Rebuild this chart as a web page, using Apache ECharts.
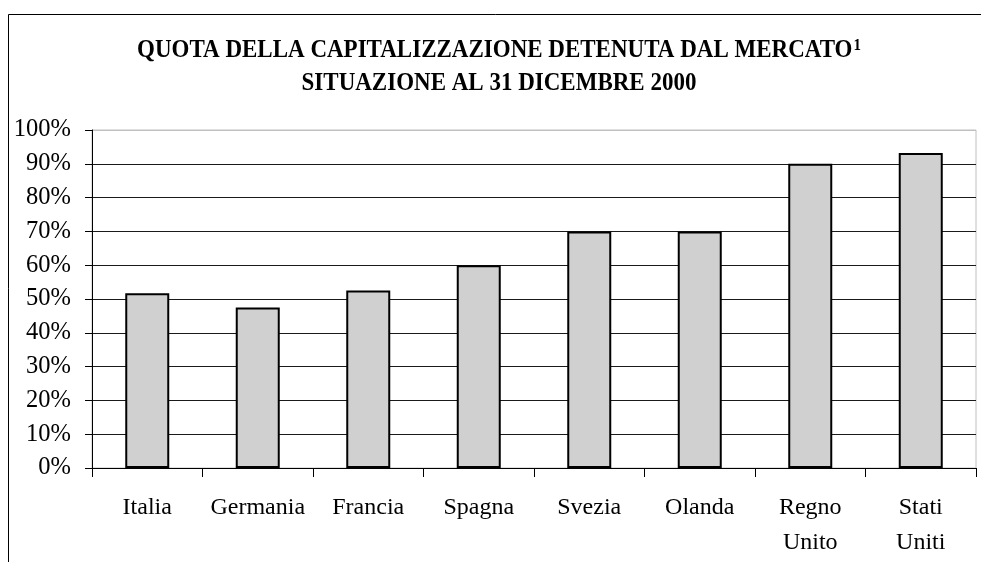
<!DOCTYPE html>
<html>
<head>
<meta charset="utf-8">
<script src="https://cdn.jsdelivr.net/npm/echarts@6/dist/echarts.min.js"></script>
<style>
  html, body { margin: 0; padding: 0; background: #fff; }
  #chart { width: 981px; height: 562px; }
</style>
</head>
<body>
<div id="chart"></div>
<script>
const paesi = ['Italia', 'Germania', 'Francia', 'Spagna', 'Svezia', 'Olanda', 'Regno\nUnito', 'Stati\nUniti'];
const quota = [51.7, 47.5, 52.5, 60, 70, 70, 90, 93.2];
const yTicks = { min: 0, max: 100, interval: 10 };
const titolo1 = 'QUOTA DELLA CAPITALIZZAZIONE DETENUTA DAL MERCATO';
const nota = '1';
const titolo2 = 'SITUAZIONE AL 31 DICEMBRE 2000';

const font = "'Liberation Serif', 'Times New Roman', serif";

// 11 gridlines: the top one (100%) is the light plot border
let splitColors = [];
for (let i = 0; i < 10; i++) splitColors.push('#1a1a1a');
splitColors.push('#c0c0c0');

const chart = echarts.init(document.getElementById('chart'));
chart.setOption({
    animation: false,
    backgroundColor: '#fff',
    graphic: [
        {
            type: 'rect',
            silent: true,
            shape: { x: 8.5, y: 14.5, width: 1200, height: 700 },
            style: { fill: 'none', stroke: '#000', lineWidth: 1 }
        },
        {
            type: 'text',
            silent: true,
            x: 499,
            y: 67,
            scaleY: 1.12,
            style: {
                text: '{t|' + titolo1 + '}{s|' + nota + '}\n{t|' + titolo2 + '}',
                align: 'center',
                verticalAlign: 'middle',
                rich: {
                    t: { fontFamily: font, fontSize: 23, fontWeight: 'bold', lineHeight: 30, fill: '#000' },
                    s: { fontFamily: font, fontSize: 15, fontWeight: 'bold', lineHeight: 30, verticalAlign: 'top', padding: [3, 0, 0, 1], fill: '#000' }
                }
            }
        }
    ],
    grid: {
        left: 92, top: 130, right: 5, bottom: 94,
        show: true,
        borderColor: '#c0c0c0',
        borderWidth: 1,
        outerBoundsMode: 'none'
    },
    xAxis: {
        type: 'category',
        data: paesi,
        axisLine: { lineStyle: { color: '#000', width: 1 } },
        axisTick: { show: true, length: 9, interval: 0, lineStyle: { color: '#000' } },
        axisLabel: {
            interval: 0,
            fontFamily: font,
            fontSize: 24,
            lineHeight: 35,
            margin: 22,
            color: '#000'
        },
        splitLine: { show: false }
    },
    yAxis: {
        type: 'value',
        min: yTicks.min,
        max: yTicks.max,
        interval: yTicks.interval,
        axisLine: { show: true, lineStyle: { color: '#000', width: 1 } },
        axisTick: { show: true, length: 7, lineStyle: { color: '#000' } },
        axisLabel: {
            formatter: '{value}%',
            fontFamily: font,
            fontSize: 24.5,
            margin: 21,
            color: '#000'
        },
        splitLine: { show: true, lineStyle: { color: splitColors, width: 1 } }
    },
    series: [
        {
            type: 'bar',
            data: quota,
            barWidth: 44,
            itemStyle: { color: '#d0d0d0', borderColor: '#000', borderWidth: 2 }
        }
    ]
});
</script>
</body>
</html>
